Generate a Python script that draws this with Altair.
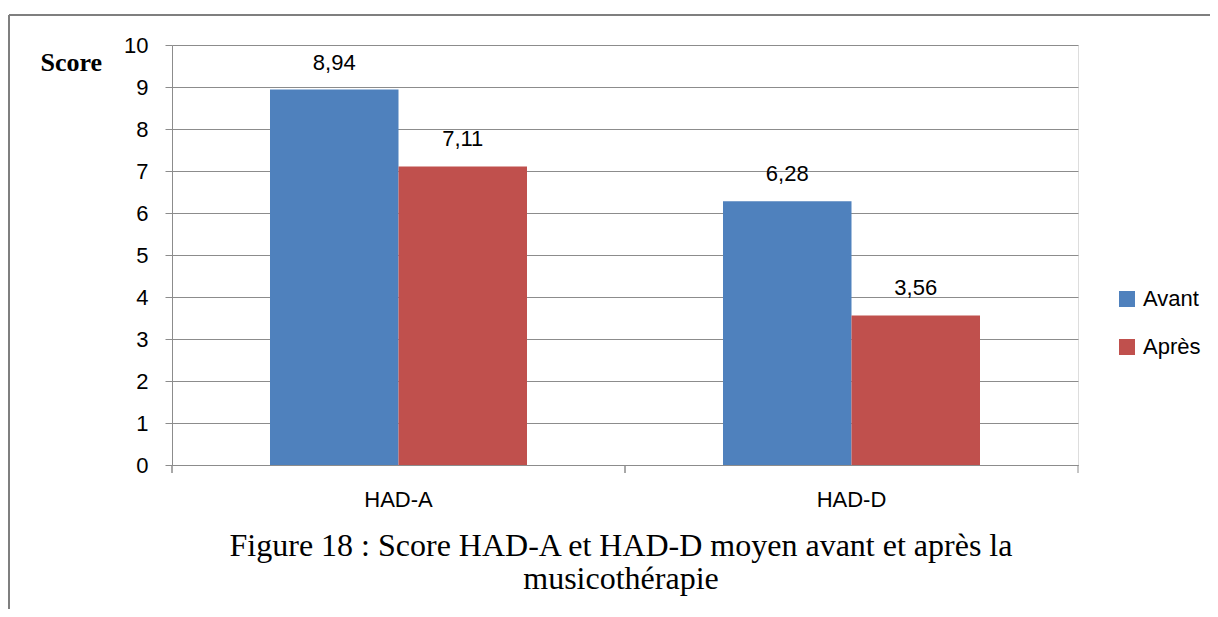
import altair as alt
import pandas as pd

categories = ["HAD-A", "HAD-D"]
series = ["Avant", "Après"]
avant = [8.94, 6.28]
apres = [7.11, 3.56]
colors = ["#4F81BD", "#C0504D"]
y_ticks = list(range(0, 11))
title_lines = ["Figure 18 : Score HAD-A et HAD-D moyen avant et après la", "musicothérapie"]

rows = []
for i, c in enumerate(categories):
    for s, vals in zip(series, [avant, apres]):
        v = vals[i]
        rows.append({"Category": c, "Series": s, "Value": v,
                     "Label": f"{v:.2f}".replace(".", ",")})
df = pd.DataFrame(rows)

GRAY = "#8c8c8c"
SANS = "Liberation Sans"
SERIF = "Liberation Serif"

x_enc = alt.X("Category:N", sort=categories,
              scale=alt.Scale(paddingInner=0, paddingOuter=0),
              axis=alt.Axis(title=None, ticks=False, domain=True, domainColor=GRAY,
                            labelFont=SANS, labelFontSize=22, labelColor="#000000",
                            labelPadding=24, labelAngle=0, grid=False))
xoff_enc = alt.XOffset("Series:N", sort=series,
                       scale=alt.Scale(paddingInner=0, paddingOuter=0.7626))
y_enc = alt.Y("Value:Q",
              scale=alt.Scale(domain=[0, 10], nice=False),
              axis=alt.Axis(values=y_ticks, title="Score", titleAngle=0,
                            titleX=-132, titleY=25, titleAlign="left",
                            titleBaseline="alphabetic", titleFont=SERIF,
                            titleFontSize=26, titleFontWeight="bold",
                            titleColor="#000000",
                            labelFont=SANS, labelFontSize=22, labelColor="#000000",
                            labelPadding=17, tickSize=7, tickColor=GRAY,
                            domainColor=GRAY, gridColor=GRAY, grid=True))

base = alt.Chart(df)

bars = base.mark_bar().encode(
    x=x_enc, xOffset=xoff_enc, y=y_enc,
    color=alt.Color("Series:N", sort=series,
                    scale=alt.Scale(domain=series, range=colors),
                    legend=alt.Legend(title=None, orient="none", legendX=944, legendY=243,
                                      symbolType="square", symbolSize=256,
                                      symbolStrokeWidth=0, labelFont=SANS,
                                      labelFontSize=22, labelColor="#000000",
                                      labelOffset=5, rowPadding=26)),
)

labels = base.mark_text(font=SANS, fontSize=22, color="#000000",
                        baseline="alphabetic", dy=-20).encode(
    x=alt.X("Category:N", sort=categories),
    xOffset=alt.XOffset("Series:N", sort=series),
    y=alt.Y("Value:Q"),
    text="Label:N",
)

ticks = base.mark_rule(color=GRAY, strokeWidth=1).encode(
    x=alt.X("Category:N", sort=categories, bandPosition=0),
    y=alt.value(420), y2=alt.value(428),
)
one = pd.DataFrame({"k": [1]})
end_tick = alt.Chart(one).mark_rule(color=GRAY, strokeWidth=1).encode(
    x=alt.value(906), y=alt.value(420), y2=alt.value(428),
)

frame_top = alt.Chart(one).mark_rule(color="#7f7f7f", strokeWidth=2).encode(
    x=alt.value(-163), x2=alt.value(1100), y=alt.value(-30),
)
frame_left = alt.Chart(one).mark_rule(color="#7f7f7f", strokeWidth=2).encode(
    x=alt.value(-163), y=alt.value(-30), y2=alt.value(620),
)

title_df = pd.DataFrame({"t": ["\n".join(title_lines)]})
title = alt.Chart(title_df).mark_text(
    font=SERIF, fontSize=32, color="#000000", align="center",
    baseline="alphabetic", lineBreak="\n", lineHeight=33,
).encode(x=alt.value(449), y=alt.value(511), text="t:N")

chart = alt.layer(bars, labels, ticks, end_tick, frame_top, frame_left, title).properties(
    width=906, height=420,
    autosize=alt.AutoSizeParams(type="none"),
    padding={"left": 164, "top": 37, "right": 132, "bottom": 144},
).configure_view(stroke=None).configure(background="white")

chart.save("out.html", embed_options={"renderer": "svg", "actions": False})
